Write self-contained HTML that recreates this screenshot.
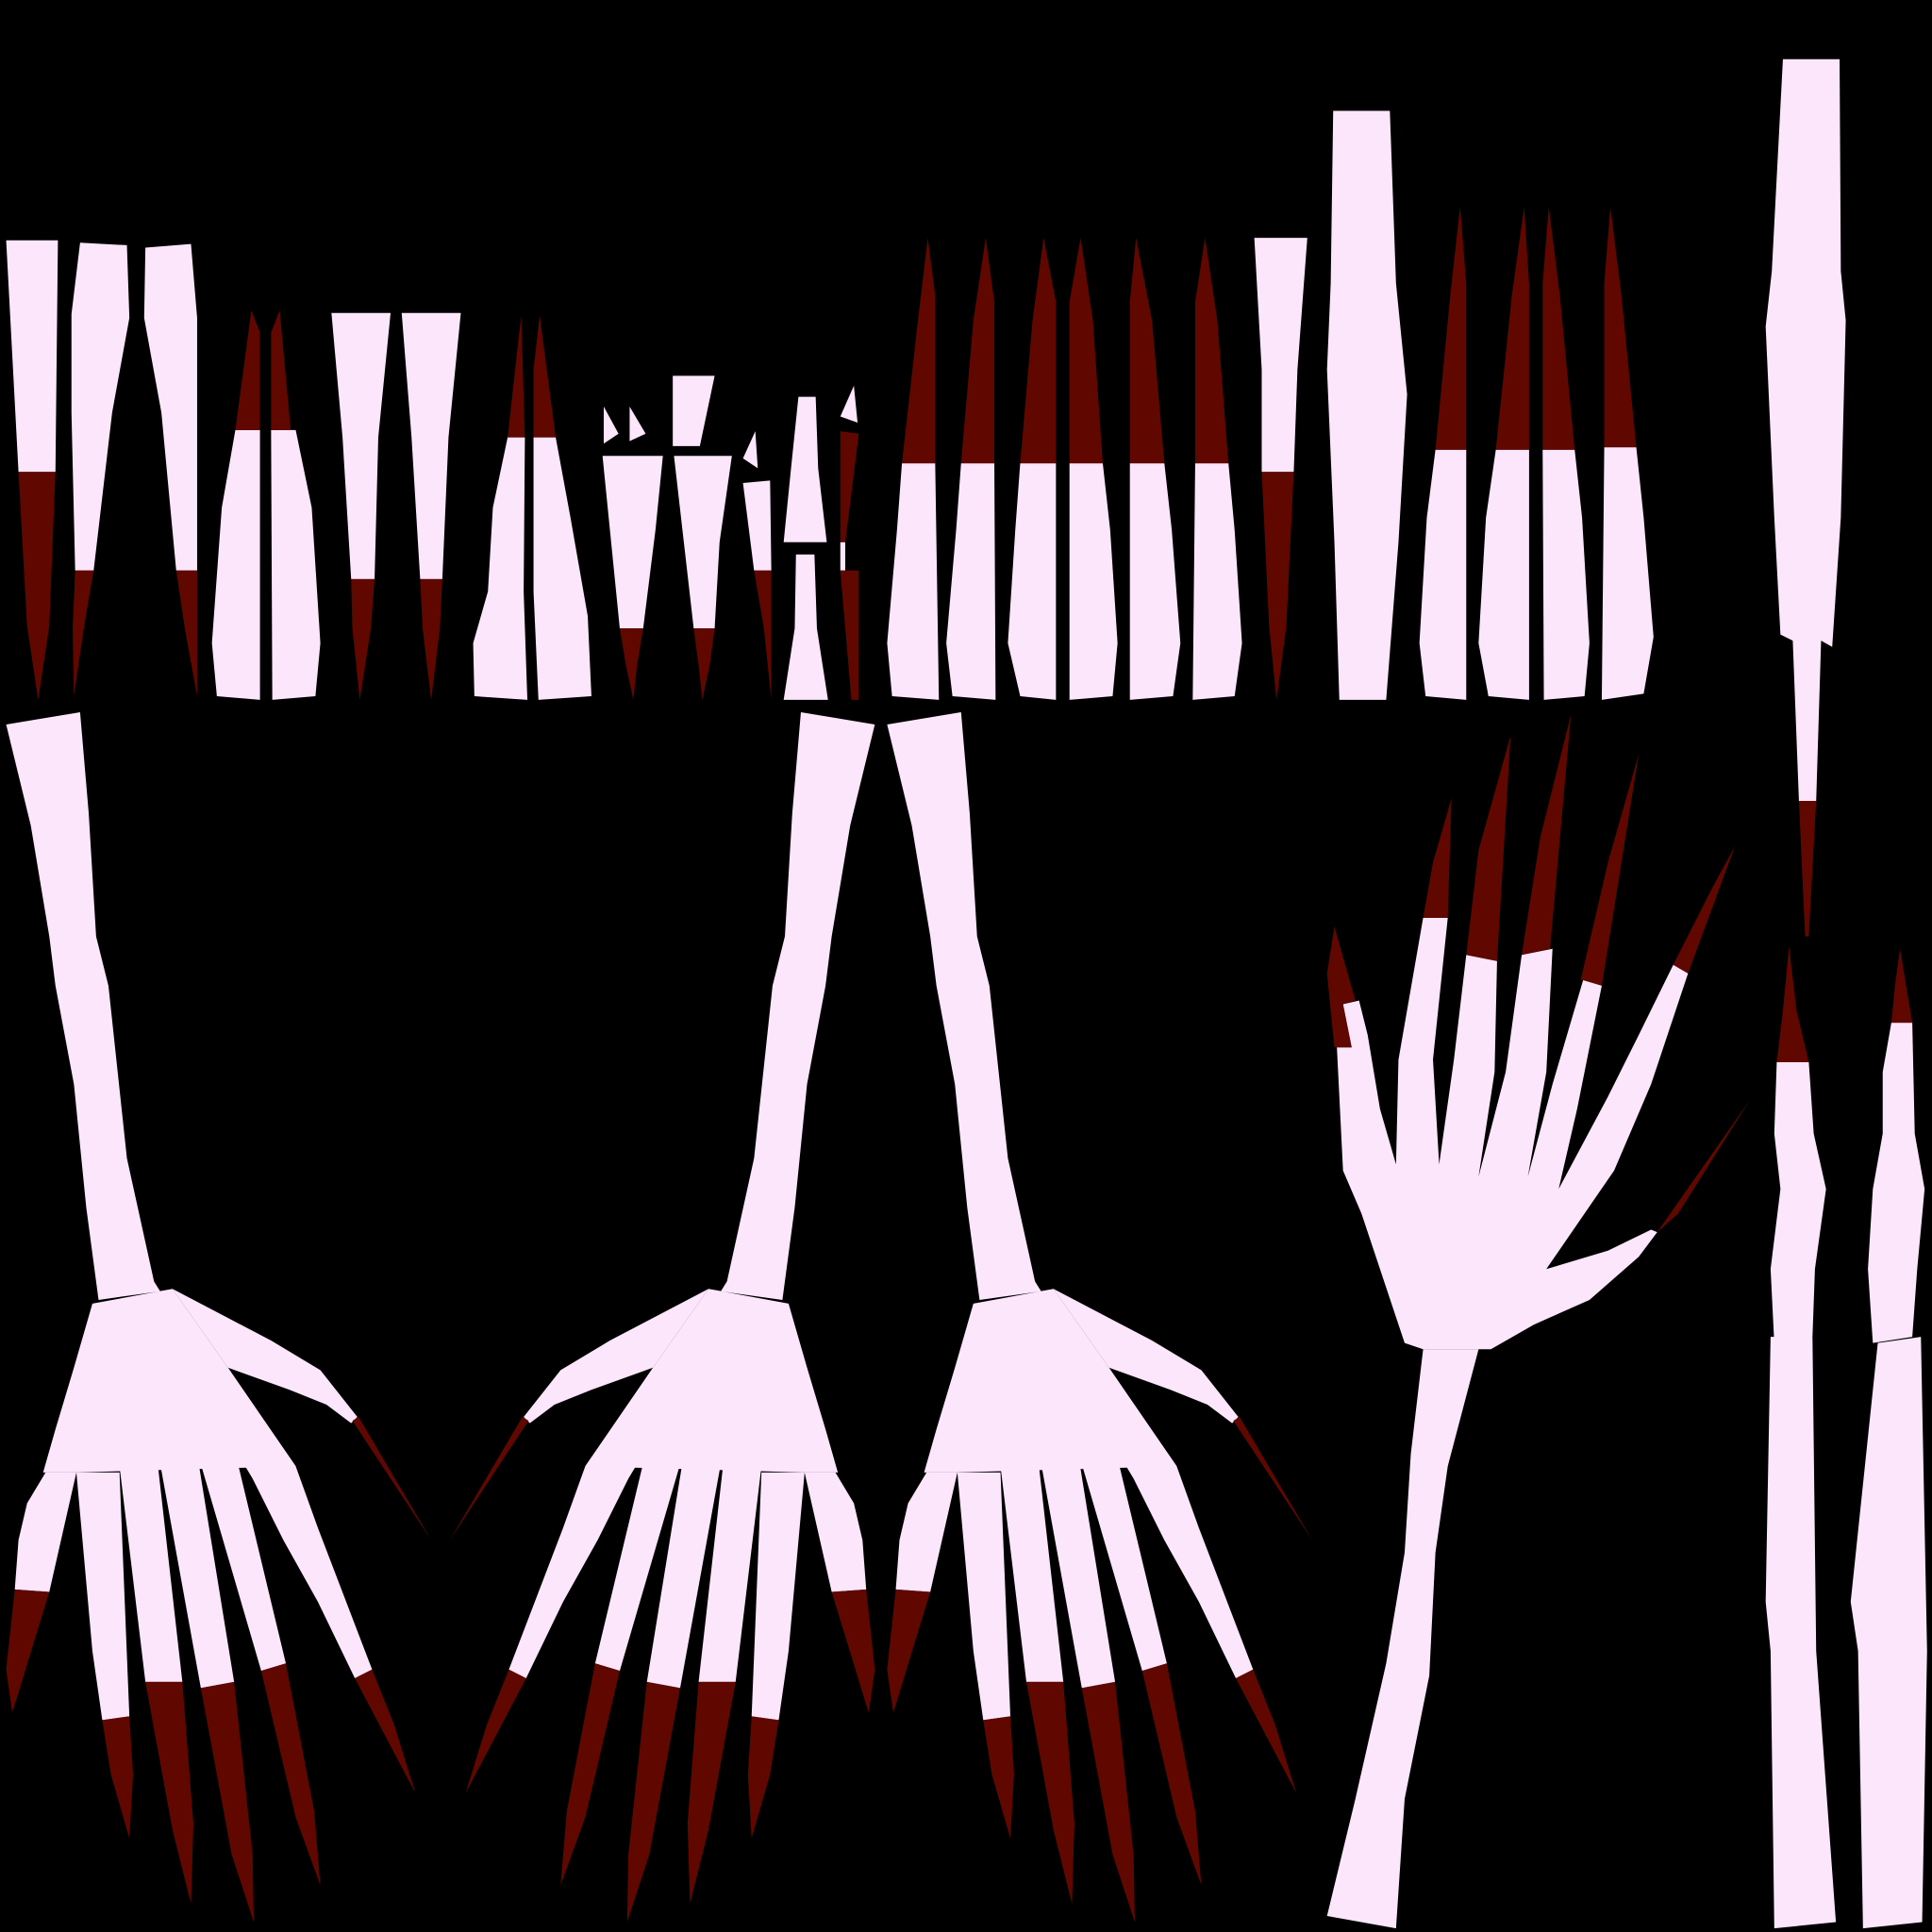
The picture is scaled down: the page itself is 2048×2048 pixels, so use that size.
<!DOCTYPE html>
<html><head><meta charset="utf-8"><style>html,body{margin:0;padding:0;background:#000}svg{display:block}</style></head>
<body>
<svg width="2048" height="2048" viewBox="0 0 1568 1568" xmlns="http://www.w3.org/2000/svg">
<rect width="1568" height="1568" fill="#000"/>
<g>
<g fill="#fce6fc">
<polygon points="5,195 47,195 45,383 15,383"/>
<polygon points="65,197 103,199 105,258 91,335 76,463 61,463 58,335 58,255"/>
<polygon points="118,201 155,198 160,258 160,335 160,463 143,463 131,335 117,258"/>
<polygon points="191,349 211,349 211,568 176,565 172,522 180,412"/>
<polygon points="220,349 240,349 253,412 260,522 256,565 221,568"/>
<polygon points="269,254 317,254 307,355 304,470 285,470 278,355"/>
<polygon points="326,254 374,254 364,355 359,470 341,470 334,355"/>
<polygon points="412,355 426,355 425,480 428,568 385,565 384,522 396,480 400,412"/>
<polygon points="433,355 451,355 463,420 477,500 480,565 437,568 433,480"/>
<polygon points="490,330 502,352 490,360"/>
<polygon points="511,330 524,352 511,358"/>
<polygon points="546,305 580,305 568,362 546,362"/>
<polygon points="489,370 538,370 532,430 522,510 503,510 495,430"/>
<polygon points="547,370 594,370 584,440 580,510 563,510 555,440"/>
<polygon points="613,350 615,380 603,372"/>
<polygon points="603,392 625,390 626,463 612,463"/>
<polygon points="648,322 662,322 664,380 671,440 636,440 642,380"/>
<polygon points="646,450 661,450 663,510 672,568 636,568 645,510"/>
<polygon points="693,313 696,343 682,338"/>
<polygon points="682,440 686,440 686,463 682,463"/>
<polygon points="732,376 759,376 762,568 724,565 720,522 728,430"/>
<polygon points="780,376 807,376 808,568 773,565 768,522 776,430"/>
<polygon points="828,376 857,376 857,568 828,565 818,522 824,430"/>
<polygon points="868,376 895,376 901,430 907,522 903,565 868,568"/>
<polygon points="917,376 945,376 951,430 958,522 952,565 917,568"/>
<polygon points="970,376 997,376 1002,430 1008,522 1002,565 968,568"/>
<polygon points="1018,193 1061,193 1053,300 1050,383 1024,383 1024,300"/>
<polygon points="1082,90 1128,90 1133,230 1142,320 1135,440 1125,568 1097,568 1087,568 1083,440 1077,300 1080,230"/>
<polygon points="1165,365 1190,365 1190,568 1157,565 1152,522 1158,420"/>
<polygon points="1214,365 1241,365 1241,568 1208,565 1200,522 1206,420"/>
<polygon points="1252,365 1278,365 1284,420 1290,522 1286,565 1253,568"/>
<polygon points="1302,363 1328,363 1334,420 1342,517 1334,563 1300,568"/>
<polygon points="1447,48 1493,48 1494,220 1498,260 1494,420 1487,525 1478,520 1474,650 1460,650 1455,520 1445,515 1440,420 1433,265 1438,220"/>
<polygon points="1442,862 1468,862 1472,920 1482,965 1473,1030 1471,1085 1440,1090 1437,1030 1445,965 1440,920"/>
<polygon points="1535,830 1552,830 1554,920 1562,965 1556,1030 1552,1085 1520,1090 1516,1030 1520,965 1528,920 1528,870"/>
<polygon points="1437,1085 1471,1085 1474,1340 1490,1560 1440,1565 1437,1340 1433,1300"/>
<polygon points="1524,1090 1559,1085 1564,1340 1560,1560 1512,1565 1508,1340 1502,1300"/>
</g>
<g fill="#600800">
<polygon points="15,383 45,383 40,508 31,568 22,508"/>
<polygon points="61,463 76,463 68,510 60,565 59,510"/>
<polygon points="143,463 160,463 160,565 150,510"/>
<polygon points="204,252 211,270 211,349 191,349"/>
<polygon points="227,252 236,349 220,349 220,270"/>
<polygon points="285,470 304,470 301,510 292,568 286,510"/>
<polygon points="341,470 359,470 357,510 350,568 343,510"/>
<polygon points="423,256 426,355 412,355"/>
<polygon points="438,256 451,355 433,355 433,300"/>
<polygon points="503,510 522,510 517,540 514,568 508,540"/>
<polygon points="563,510 580,510 576,540 570,568 567,540"/>
<polygon points="612,463 626,463 626,568 620,510"/>
<polygon points="682,350 697,352 686,440 682,440"/>
<polygon points="682,463 697,463 697,568 691,568"/>
<polygon points="753,193 759,240 759,376 732,376 745,260"/>
<polygon points="800,193 807,245 807,376 780,376 790,260"/>
<polygon points="847,193 857,245 857,376 828,376 838,260"/>
<polygon points="877,193 887,260 895,376 868,376 868,245"/>
<polygon points="922,193 935,260 945,376 917,376 917,245"/>
<polygon points="978,193 988,260 997,376 970,376 970,245"/>
<polygon points="1024,383 1050,383 1044,508 1036,568 1030,508"/>
<polygon points="1185,168 1190,230 1190,365 1165,365 1177,240"/>
<polygon points="1237,168 1241,230 1241,365 1214,365 1227,240"/>
<polygon points="1257,168 1266,240 1278,365 1252,365 1252,230"/>
<polygon points="1307,168 1316,240 1328,363 1302,363 1302,230"/>
<polygon points="1460,650 1474,650 1468,760 1465,760"/>
<polygon points="1452,768 1458,820 1468,862 1442,862 1447,820"/>
<polygon points="1542,770 1552,830 1535,830 1538,800"/>
</g>
</g>
<defs>
<g id="hand">
<g fill="#fce6fc">
<polygon points="5,588 65,578 72,660 78,760 88,800 103,940 125,1040 130,1048 80,1055 70,980 60,880 45,800 40,760 25,670"/>
<polygon points="75,1058 140,1046 185,1110 240,1190 62,1195 35,1195 45,1160 60,1110"/>
<polygon points="140,1046 220,1088 260,1112 290,1150 285,1155 265,1140 235,1128 185,1110"/>
<polygon points="37,1195 62,1195 40,1292 12,1290 15,1250 22,1220"/>
<polygon points="62,1195 97,1195 105,1393 83,1396 75,1340"/>
<polygon points="97,1190 128,1188 148,1365 118,1365"/>
<polygon points="130,1188 160,1180 190,1365 163,1370"/>
<polygon points="160,1178 190,1175 232,1350 212,1356"/>
<polygon points="185,1110 240,1190 258,1240 302,1355 288,1362 258,1300 230,1250 205,1200 190,1175"/>
</g>
<g fill="#600800">
<polygon points="12,1290 40,1292 10,1390 5,1355"/>
<polygon points="83,1396 105,1393 108,1440 105,1492 90,1440"/>
<polygon points="118,1365 148,1365 157,1480 155,1545 140,1485"/>
<polygon points="163,1370 190,1365 205,1505 206,1560 188,1505"/>
<polygon points="212,1356 232,1350 255,1470 260,1530 240,1475"/>
<polygon points="288,1362 302,1355 320,1400 337,1455 308,1400"/>
<polygon points="286,1153 291,1150 350,1250"/>
</g>
</g>
</defs>
<use href="#hand"/>
<use href="#hand" transform="translate(715,0) scale(-1,1)"/>
<use href="#hand" transform="translate(715,0)"/>
<g>
<g fill="#fce6fc">
<polygon points="1077,1555 1133,1565 1140,1460 1160,1360 1165,1260 1175,1190 1200,1095 1155,1095 1145,1180 1140,1260 1125,1350 1100,1460"/>
<polygon points="1155,1095 1210,1095 1245,1075 1290,1055 1330,1020 1345,1000 1340,998 1305,1015 1255,1030 1310,950 1340,880 1370,790 1358,783 1330,840 1305,890 1265,965 1280,900 1300,800 1285,795 1260,880 1240,955 1255,870 1260,770 1235,775 1222,870 1200,955 1213,870 1215,780 1190,775 1180,860 1168,945 1163,860 1175,745 1155,745 1135,860 1133,945 1120,900 1110,840 1103,812 1090,815 1097,850 1085,850 1090,950 1105,985 1120,1030 1140,1090"/>
</g>
<g fill="#600800">
<polygon points="1083,752 1100,812 1090,815 1097,850 1083,850 1077,790"/>
<polygon points="1178,648 1175,745 1155,745 1163,700"/>
<polygon points="1226,597 1215,780 1190,775 1200,690"/>
<polygon points="1275,580 1258,770 1235,775 1250,680"/>
<polygon points="1330,612 1300,800 1283,795 1305,700"/>
<polygon points="1408,687 1370,790 1358,783 1390,720"/>
<polygon points="1420,893 1345,1000 1362,985"/>
</g>
</g>
</svg>
</body></html>
